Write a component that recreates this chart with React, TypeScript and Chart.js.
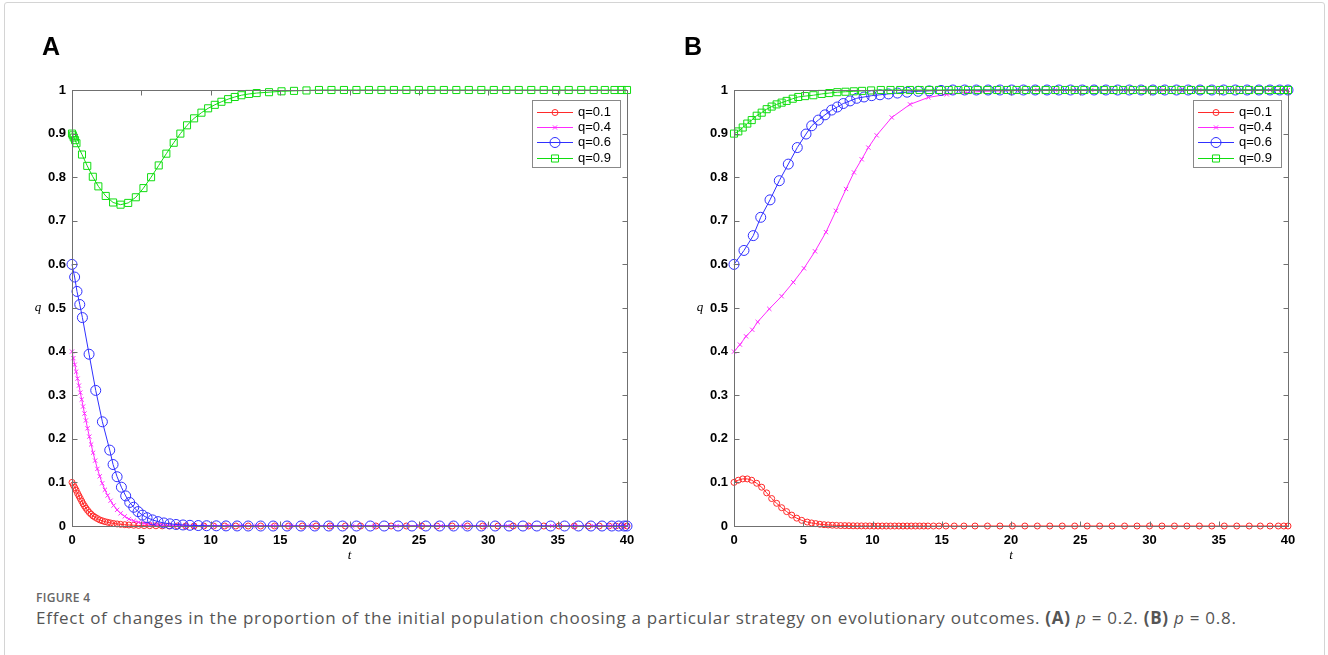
import React, { useEffect, useRef } from 'react';
import { Chart, registerables } from 'chart.js';

Chart.register(...registerables);

type Pt = [number, number];

const seriesLabels = ['q=0.1', 'q=0.4', 'q=0.6', 'q=0.9'];
const seriesColors = ['#ff2a2a', '#ff2aff', '#3030ff', '#10dd10'];
const xTickValues = [0, 5, 10, 15, 20, 25, 30, 35, 40];
const yTickValues = [0, 0.1, 0.2, 0.3, 0.4, 0.5, 0.6, 0.7, 0.8, 0.9, 1];
const yTickLabels = ['0', '0.1', '0.2', '0.3', '0.4', '0.5', '0.6', '0.7', '0.8', '0.9', '1'];
const panelLetters = ['A', 'B'];
const captionLabel = 'FIGURE 4';

// ---------- Panel A (p = 0.2) ----------
const panelA_q01: Pt[] = [
  [0, 0.1], [0.1, 0.094], [0.2, 0.088], [0.3, 0.082], [0.4, 0.075], [0.5, 0.069], [0.6, 0.063], [0.7, 0.057],
  [0.8, 0.051], [0.9, 0.046], [1.0, 0.041], [1.12, 0.036], [1.25, 0.031], [1.38, 0.027], [1.52, 0.023],
  [1.67, 0.02], [1.83, 0.017], [2.0, 0.014], [2.18, 0.012], [2.37, 0.01], [2.57, 0.0085], [2.78, 0.007],
  [3.0, 0.0058], [3.25, 0.0047], [3.5, 0.0038], [3.8, 0.003], [4.1, 0.0023], [4.45, 0.0017], [4.8, 0.0013],
  [5.2, 0.001], [5.6, 0.0007], [6.05, 0.0005], [6.5, 0.0003], [7.0, 0.0002], [7.6, 0.0001], [8.2, 0], [8.8, 0],
  [9.5, 0], [10.2, 0], [11.0, 0], [11.8, 0], [12.7, 0], [13.6, 0], [14.6, 0], [15.6, 0], [16.6, 0], [17.6, 0],
  [18.6, 0], [19.7, 0], [20.8, 0], [21.9, 0], [23.0, 0], [24.1, 0], [25.2, 0], [26.3, 0], [27.4, 0], [28.5, 0],
  [29.6, 0], [30.7, 0], [31.8, 0], [32.9, 0], [34.0, 0], [35.1, 0], [36.2, 0], [37.2, 0], [38.0, 0], [38.7, 0],
  [39.2, 0], [39.6, 0], [40, 0],
];
const panelA_q04: Pt[] = [
  [0, 0.4], [0.1, 0.385], [0.2, 0.37], [0.3, 0.354], [0.4, 0.338], [0.5, 0.322], [0.6, 0.306], [0.7, 0.29],
  [0.8, 0.274], [0.9, 0.258], [1.0, 0.242], [1.12, 0.224], [1.25, 0.205], [1.38, 0.187], [1.52, 0.168],
  [1.67, 0.15], [1.83, 0.131], [2.0, 0.114], [2.18, 0.098], [2.37, 0.083], [2.57, 0.07], [2.78, 0.058],
  [3.0, 0.047], [3.25, 0.037], [3.5, 0.029], [3.8, 0.022], [4.1, 0.016], [4.45, 0.012], [4.8, 0.0085],
  [5.2, 0.006], [5.6, 0.0042], [6.05, 0.003], [6.5, 0.002], [7.0, 0.0014], [7.6, 0.0009], [8.2, 0.0006],
  [8.8, 0.0004], [9.5, 0.0002], [10.3, 0.0001], [11.2, 0], [12.2, 0], [13.3, 0], [14.5, 0], [15.8, 0], [17.2, 0],
  [18.7, 0], [20.2, 0], [21.8, 0], [23.4, 0], [25.0, 0], [26.6, 0], [28.2, 0], [29.8, 0], [31.4, 0], [33.0, 0],
  [34.6, 0], [36.2, 0], [37.6, 0], [38.8, 0], [39.5, 0], [40, 0],
];
const panelA_q06: Pt[] = [
  [0, 0.6], [0.19, 0.571], [0.36, 0.538], [0.56, 0.508], [0.75, 0.478], [1.23, 0.394], [1.71, 0.311],
  [2.19, 0.239], [2.72, 0.174], [2.96, 0.141], [3.25, 0.113], [3.56, 0.089], [3.87, 0.069], [4.16, 0.054],
  [4.45, 0.043], [4.76, 0.033], [5.08, 0.025], [5.41, 0.019], [5.8, 0.014], [6.2, 0.01], [6.62, 0.007],
  [7.05, 0.005], [7.5, 0.0035], [8.0, 0.0024], [8.5, 0.0016], [9.1, 0.001], [9.7, 0.0006], [10.4, 0.0004],
  [11.1, 0.0002], [11.9, 0.0001], [12.7, 0], [13.6, 0], [14.5, 0], [15.5, 0], [16.5, 0], [17.5, 0], [18.5, 0],
  [19.5, 0], [20.5, 0], [21.5, 0], [22.5, 0], [23.5, 0], [24.5, 0], [25.5, 0], [26.5, 0], [27.5, 0], [28.5, 0],
  [29.5, 0], [30.5, 0], [31.5, 0], [32.5, 0], [33.5, 0], [34.5, 0], [35.5, 0], [36.5, 0], [37.4, 0], [38.2, 0],
  [38.9, 0], [39.4, 0], [39.8, 0], [40, 0],
];
const panelA_q09: Pt[] = [
  [0, 0.9], [0.06, 0.896], [0.13, 0.891], [0.22, 0.885], [0.32, 0.878], [0.72, 0.852], [1.1, 0.826],
  [1.5, 0.801], [1.9, 0.779], [2.43, 0.757], [2.96, 0.742], [3.5, 0.737], [4.05, 0.741], [4.6, 0.754],
  [5.15, 0.775], [5.7, 0.8], [6.25, 0.827], [6.8, 0.854], [7.33, 0.879], [7.81, 0.9], [8.29, 0.919],
  [8.8, 0.935], [9.33, 0.948], [9.81, 0.958], [10.29, 0.966], [10.77, 0.973], [11.25, 0.979], [11.73, 0.984],
  [12.21, 0.988], [12.76, 0.991], [13.31, 0.993], [14.2, 0.995], [15.1, 0.997], [16.0, 0.998], [16.9, 0.999],
  [17.8, 1], [18.7, 1], [19.6, 1], [20.5, 1], [21.4, 1], [22.3, 1], [23.2, 1], [24.1, 1], [25.0, 1], [25.9, 1],
  [26.8, 1], [27.7, 1], [28.6, 1], [29.5, 1], [30.4, 1], [31.3, 1], [32.2, 1], [33.1, 1], [34.0, 1], [34.9, 1],
  [35.8, 1], [36.7, 1], [37.6, 1], [38.4, 1], [39.1, 1], [39.6, 1], [40, 1],
];

// ---------- Panel B (p = 0.8) ----------
const panelB_q01: Pt[] = [
  [0, 0.1], [0.31, 0.105], [0.63, 0.108], [0.96, 0.108], [1.28, 0.105], [1.64, 0.098], [2.0, 0.089],
  [2.36, 0.076], [2.72, 0.063], [3.08, 0.052], [3.44, 0.042], [3.8, 0.033], [4.17, 0.025], [4.53, 0.018],
  [4.89, 0.013], [5.29, 0.009], [5.6, 0.007], [5.9, 0.0055], [6.2, 0.004], [6.5, 0.003], [6.8, 0.0024],
  [7.1, 0.0018], [7.4, 0.0014], [7.7, 0.001], [8.0, 0.0008], [8.3, 0.0006], [8.6, 0.0004], [8.9, 0.0003],
  [9.2, 0.0002], [9.5, 0.0002], [9.8, 0.0001], [10.1, 0], [10.4, 0], [10.7, 0], [11.0, 0], [11.3, 0], [11.6, 0],
  [11.9, 0], [12.2, 0], [12.5, 0], [12.8, 0], [13.1, 0], [13.4, 0], [13.7, 0], [14.0, 0], [14.4, 0], [14.8, 0],
  [15.3, 0], [15.9, 0], [16.6, 0], [17.4, 0], [18.3, 0], [19.2, 0], [20.1, 0], [21.0, 0], [21.9, 0], [22.8, 0],
  [23.7, 0], [24.6, 0], [25.5, 0], [26.4, 0], [27.3, 0], [28.2, 0], [29.1, 0], [30.0, 0], [30.9, 0], [31.8, 0],
  [32.7, 0], [33.6, 0], [34.5, 0], [35.4, 0], [36.3, 0], [37.2, 0], [38.0, 0], [38.7, 0], [39.3, 0], [39.7, 0],
  [40, 0],
];
const panelB_q04: Pt[] = [
  [0, 0.4], [0.43, 0.416], [0.87, 0.435], [1.32, 0.45], [1.71, 0.468], [2.55, 0.498], [3.44, 0.527],
  [4.28, 0.559], [5.05, 0.591], [5.85, 0.63], [6.64, 0.674], [7.36, 0.723], [8.09, 0.773], [8.66, 0.811],
  [9.22, 0.841], [9.7, 0.868], [10.3, 0.896], [11.39, 0.937], [12.71, 0.967], [14.03, 0.983], [15.36, 0.99],
  [16.68, 0.994], [18.0, 0.997], [19.3, 0.998], [20.6, 0.999], [21.9, 1], [23.2, 1], [24.5, 1], [25.8, 1],
  [27.1, 1], [28.4, 1], [29.7, 1], [31.0, 1], [32.3, 1], [33.6, 1], [34.9, 1], [36.2, 1], [37.5, 1], [38.7, 1],
  [39.5, 1], [40, 1],
];
const panelB_q06: Pt[] = [
  [0, 0.6], [0.72, 0.632], [1.39, 0.666], [1.93, 0.708], [2.6, 0.748], [3.27, 0.792], [3.92, 0.83],
  [4.57, 0.868], [5.2, 0.899], [5.61, 0.918], [6.09, 0.931], [6.57, 0.943], [7.05, 0.954], [7.46, 0.961],
  [7.89, 0.969], [8.38, 0.975], [8.86, 0.981], [9.39, 0.984], [9.94, 0.987], [10.54, 0.989], [11.15, 0.991],
  [11.8, 0.993], [12.5, 0.995], [13.3, 0.997], [14.1, 0.998], [14.95, 0.999], [15.8, 1], [16.65, 1], [17.5, 1],
  [18.35, 1], [19.2, 1], [20.05, 1], [20.9, 1], [21.75, 1], [22.6, 1], [23.45, 1], [24.3, 1], [25.15, 1],
  [26.0, 1], [26.85, 1], [27.7, 1], [28.55, 1], [29.4, 1], [30.25, 1], [31.1, 1], [31.95, 1], [32.8, 1],
  [33.65, 1], [34.5, 1], [35.35, 1], [36.2, 1], [37.05, 1], [37.9, 1], [38.7, 1], [39.4, 1], [40, 1],
];
const panelB_q09: Pt[] = [
  [0, 0.9], [0.31, 0.905], [0.63, 0.914], [0.96, 0.923], [1.28, 0.931], [1.64, 0.941], [2.0, 0.948],
  [2.36, 0.956], [2.72, 0.962], [3.08, 0.967], [3.44, 0.971], [3.8, 0.975], [4.24, 0.98], [4.64, 0.984],
  [5.13, 0.986], [5.73, 0.988], [6.33, 0.991], [6.88, 0.993], [7.46, 0.995], [8.05, 0.996], [8.65, 0.997],
  [9.25, 0.998], [9.9, 0.999], [10.6, 1], [11.3, 1], [12.0, 1], [12.7, 1], [13.4, 1], [14.1, 1], [14.8, 1],
  [15.5, 1], [16.2, 1], [16.9, 1], [17.6, 1], [18.3, 1], [19.0, 1], [19.7, 1], [20.4, 1], [21.1, 1], [21.8, 1],
  [22.5, 1], [23.2, 1], [23.9, 1], [24.6, 1], [25.3, 1], [26.0, 1], [26.7, 1], [27.4, 1], [28.1, 1], [28.8, 1],
  [29.5, 1], [30.2, 1], [30.9, 1], [31.6, 1], [32.3, 1], [33.0, 1], [33.7, 1], [34.4, 1], [35.1, 1], [35.8, 1],
  [36.5, 1], [37.2, 1], [37.9, 1], [38.6, 1], [39.2, 1], [39.7, 1], [40, 1],
];

const panelASeries = [panelA_q01, panelA_q04, panelA_q06, panelA_q09];
const panelBSeries = [panelB_q01, panelB_q04, panelB_q06, panelB_q09];

const markerStyles = ['circle', 'crossRot', 'circle', 'rect'];
const markerRadii = [3, 3, 5, 5];

const CANVAS_W = 664;
const CANVAS_H = 580;

function drawMarker(ctx: CanvasRenderingContext2D, i: number, x: number, y: number, color: string) {
  const r = markerRadii[i];
  ctx.strokeStyle = color;
  ctx.lineWidth = 1;
  ctx.beginPath();
  if (markerStyles[i] === 'circle') {
    ctx.arc(x, y, r, 0, Math.PI * 2);
  } else if (markerStyles[i] === 'crossRot') {
    ctx.moveTo(x - r * 0.7, y - r * 0.7);
    ctx.lineTo(x + r * 0.7, y + r * 0.7);
    ctx.moveTo(x + r * 0.7, y - r * 0.7);
    ctx.lineTo(x - r * 0.7, y + r * 0.7);
  } else {
    const s = r * Math.SQRT1_2;
    ctx.rect(x - s, y - s, 2 * s, 2 * s);
  }
  ctx.stroke();
}

function framePlugin(letter: string, letterX: number) {
  return {
    id: 'frame' + letter,
    afterDraw(chart: any) {
      const ctx: CanvasRenderingContext2D = chart.ctx;
      const a = chart.chartArea;
      const sx = chart.scales.x;
      const sy = chart.scales.y;
      ctx.save();
      const L = Math.round(a.left) + 0.5;
      const R = Math.round(a.right) + 0.5;
      const T = Math.round(a.top) + 0.5;
      const B = Math.round(a.bottom) + 0.5;
      ctx.strokeStyle = '#707070';
      ctx.lineWidth = 1;
      ctx.strokeRect(L, T, R - L, B - T);
      ctx.beginPath();
      const tl = 5;
      xTickValues.forEach((v) => {
        const px = Math.round(sx.getPixelForValue(v)) + 0.5;
        ctx.moveTo(px, B);
        ctx.lineTo(px, B - tl);
        ctx.moveTo(px, T);
        ctx.lineTo(px, T + tl);
      });
      yTickValues.forEach((v) => {
        const py = Math.round(sy.getPixelForValue(v)) + 0.5;
        ctx.moveTo(L, py);
        ctx.lineTo(L + tl, py);
        ctx.moveTo(R, py);
        ctx.lineTo(R - tl, py);
      });
      ctx.stroke();

      // legend
      const bx = Math.round(a.right) - 95;
      const by = Math.round(a.top) + 10;
      ctx.fillStyle = '#fff';
      ctx.fillRect(bx, by, 88, 67);
      ctx.strokeStyle = '#888';
      ctx.strokeRect(bx + 0.5, by + 0.5, 88, 67);
      const rows = [22, 37, 52, 68];
      ctx.font = '13px "Liberation Sans", Arial, sans-serif';
      ctx.textBaseline = 'middle';
      ctx.textAlign = 'left';
      seriesLabels.forEach((lab, i) => {
        const y = Math.round(a.top) + rows[i] + 0.5;
        const c = seriesColors[i];
        ctx.strokeStyle = c;
        ctx.lineWidth = 1;
        ctx.beginPath();
        ctx.moveTo(Math.round(a.right) - 90, y);
        ctx.lineTo(Math.round(a.right) - 54, y);
        ctx.stroke();
        drawMarker(ctx, i, Math.round(a.right) - 72, y, c);
        ctx.fillStyle = '#000';
        ctx.fillText(lab, Math.round(a.right) - 49, y);
      });

      // axis titles
      ctx.fillStyle = '#000';
      ctx.font = 'italic 13px "Liberation Serif", "Times New Roman", serif';
      ctx.textAlign = 'center';
      ctx.textBaseline = 'middle';
      ctx.fillText('t', (a.left + a.right) / 2, a.bottom + 30);
      ctx.fillText('q', a.left - 34, (a.top + a.bottom) / 2);

      // panel letter
      ctx.font = 'bold 25px "Liberation Sans", Arial, sans-serif';
      ctx.textAlign = 'left';
      ctx.textBaseline = 'alphabetic';
      ctx.fillText(letter, letterX, 55);
      ctx.restore();
    },
  };
}

function makeChart(
  canvas: HTMLCanvasElement,
  series: Pt[][],
  letter: string,
  letterX: number,
  rightPad: number,
  yWidth: number
) {
  const datasets = series.map((pts, i) => ({
    label: seriesLabels[i],
    data: pts.map(([x, y]) => ({ x, y })),
    borderColor: seriesColors[i],
    backgroundColor: 'rgba(0,0,0,0)',
    borderWidth: 1,
    pointStyle: markerStyles[i] as any,
    pointRadius: markerRadii[i],
    pointBorderWidth: 1,
    pointBorderColor: seriesColors[i],
    pointBackgroundColor: 'rgba(0,0,0,0)',
    tension: 0,
    clip: false as any,
    order: 4 - i,
  }));
  const tickFont = { family: '"Liberation Sans", Arial, sans-serif', size: 13, weight: 'bold' as any };
  return new Chart(canvas, {
    type: 'line',
    data: { datasets },
    options: {
      animation: false,
      responsive: false,
      devicePixelRatio: 1,
      layout: { padding: { top: 90, right: rightPad, left: 0, bottom: 0 } },
      plugins: { legend: { display: false }, tooltip: { enabled: false }, title: { display: false } },
      scales: {
        x: {
          type: 'linear',
          min: 0,
          max: 40,
          afterBuildTicks: (s: any) => {
            s.ticks = xTickValues.map((v) => ({ value: v }));
          },
          afterFit: (s: any) => {
            s.height = 54;
          },
          ticks: { font: tickFont, color: '#000', padding: 7, maxRotation: 0, autoSkip: false },
          grid: { display: false, drawTicks: false },
          border: { display: false },
        },
        y: {
          type: 'linear',
          min: 0,
          max: 1,
          afterBuildTicks: (s: any) => {
            s.ticks = yTickValues.map((v) => ({ value: v }));
          },
          afterFit: (s: any) => {
            s.width = yWidth;
          },
          ticks: {
            font: tickFont,
            color: '#000',
            padding: 6,
            autoSkip: false,
            callback: (_v: any, idx: number) => yTickLabels[idx],
          },
          grid: { display: false, drawTicks: false },
          border: { display: false },
        },
      },
    },
    plugins: [framePlugin(letter, letterX)],
  } as any);
}

export default function App() {
  const refA = useRef<HTMLCanvasElement>(null);
  const refB = useRef<HTMLCanvasElement>(null);

  useEffect(() => {
    document.body.style.margin = '0';
    const cA = makeChart(refA.current!, panelASeries, panelLetters[0], 42, CANVAS_W - 627, 72);
    const cB = makeChart(refB.current!, panelBSeries, panelLetters[1], 20, CANVAS_W - 624, 70);
    return () => {
      cA.destroy();
      cB.destroy();
    };
  }, []);

  return (
    <div style={{ position: 'relative', width: 1328, height: 655, overflow: 'hidden', background: '#fff' }}>
      <div
        style={{
          position: 'absolute',
          left: 4,
          top: 2,
          width: 1321,
          height: 700,
          border: '1px solid #d4d4d4',
          borderRadius: 3,
          boxSizing: 'border-box',
        }}
      />
      <canvas ref={refA} width={CANVAS_W} height={CANVAS_H} style={{ position: 'absolute', left: 0, top: 0 }} />
      <canvas ref={refB} width={CANVAS_W} height={CANVAS_H} style={{ position: 'absolute', left: 664, top: 0 }} />
      <div
        style={{
          position: 'absolute',
          left: 36,
          top: 590,
          font: '600 12px "Open Sans", sans-serif',
          lineHeight: '16px',
          color: '#666',
          letterSpacing: '0.3px',
        }}
      >
        {captionLabel}
      </div>
      <div
        style={{
          position: 'absolute',
          left: 36,
          top: 607,
          font: '17px "Open Sans", sans-serif',
          lineHeight: '22px',
          color: '#555',
          whiteSpace: 'nowrap',
          letterSpacing: '0.73px',
        }}
      >
        Effect of changes in the proportion of the initial population choosing a particular strategy on evolutionary
        outcomes. <b>(A)</b> <i>p</i> = 0.2. <b>(B)</b> <i>p</i> = 0.8.
      </div>
    </div>
  );
}
